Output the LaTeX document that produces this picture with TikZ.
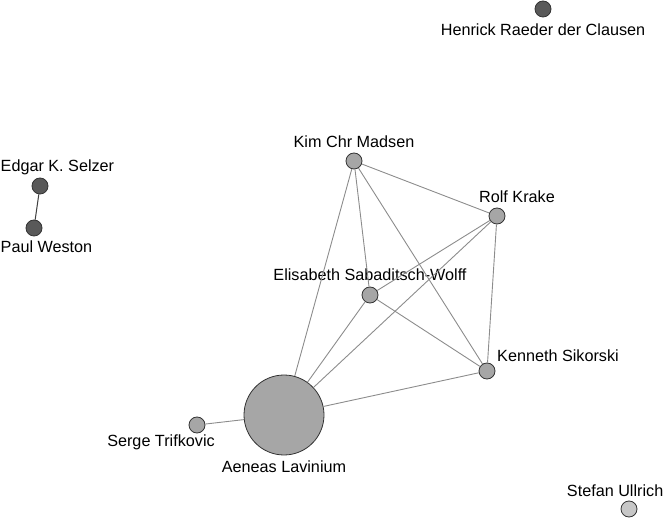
\documentclass[tikz,border=0pt]{standalone}
\usepackage{fontspec}
\setmainfont{Liberation Sans}
\begin{document}
\begin{tikzpicture}[x=1pt,y=-1pt,
  vtx/.style={circle,draw=black!80,line width=0.8pt,inner sep=0pt,minimum size=16pt},
  dark/.style={vtx,fill=black!65},
  mid/.style={vtx,fill=black!35},
  light/.style={vtx,fill=black!22},
  lbl/.style={font=\fontsize{16.2}{19}\selectfont,inner sep=0pt},
  edge/.style={draw=black!45,line width=0.9pt},
  dedge/.style={draw=black!75,line width=1pt}]
\useasboundingbox (0,0) rectangle (664,518);
\node[dark] (hen) at (543,9) {};
\node[lbl] (henl) at (543,30) {Henrick Raeder der Clausen};
\node[dark] (edg) at (40,186) {};
\node[lbl,anchor=west] (edgl) at (0.5,167) {Edgar K. Selzer};
\node[dark] (pau) at (34,228) {};
\node[lbl,anchor=west] (paul) at (0.5,247) {Paul Weston};
\node[mid] (kim) at (354,161) {};
\node[lbl] (kiml) at (354,142) {Kim Chr Madsen};
\node[mid] (rol) at (497,216) {};
\node[lbl] (roll) at (517,197) {Rolf Krake};
\node[mid] (eli) at (370,295) {};
\node[lbl] (elil) at (370,275) {Elisabeth Sabaditsch-Wolff};
\node[mid] (ken) at (487,371) {};
\node[lbl] (kenl) at (558,356) {Kenneth Sikorski};
\node[mid,minimum size=80pt] (aen) at (284,415) {};
\node[lbl] (aenl) at (284,467) {Aeneas Lavinium};
\node[mid] (ser) at (197,425) {};
\node[lbl] (serl) at (161,442) {Serge Trifkovic};
\node[light] (ste) at (629,509) {};
\node[lbl,anchor=east] (stel) at (663.5,491) {Stefan Ullrich};
\draw[dedge] (edg) -- (pau);
\draw[edge] (kim) -- (rol);
\draw[edge] (kim) -- (eli);
\draw[edge] (kim) -- (ken);
\draw[edge] (kim) -- (aen);
\draw[edge] (rol) -- (eli);
\draw[edge] (rol) -- (aen);
\draw[edge] (rol) -- (ken);
\draw[edge] (eli) -- (ken);
\draw[edge] (eli) -- (aen);
\draw[edge] (ken) -- (aen);
\draw[edge] (ser) -- (aen);
\end{tikzpicture}
\end{document}
